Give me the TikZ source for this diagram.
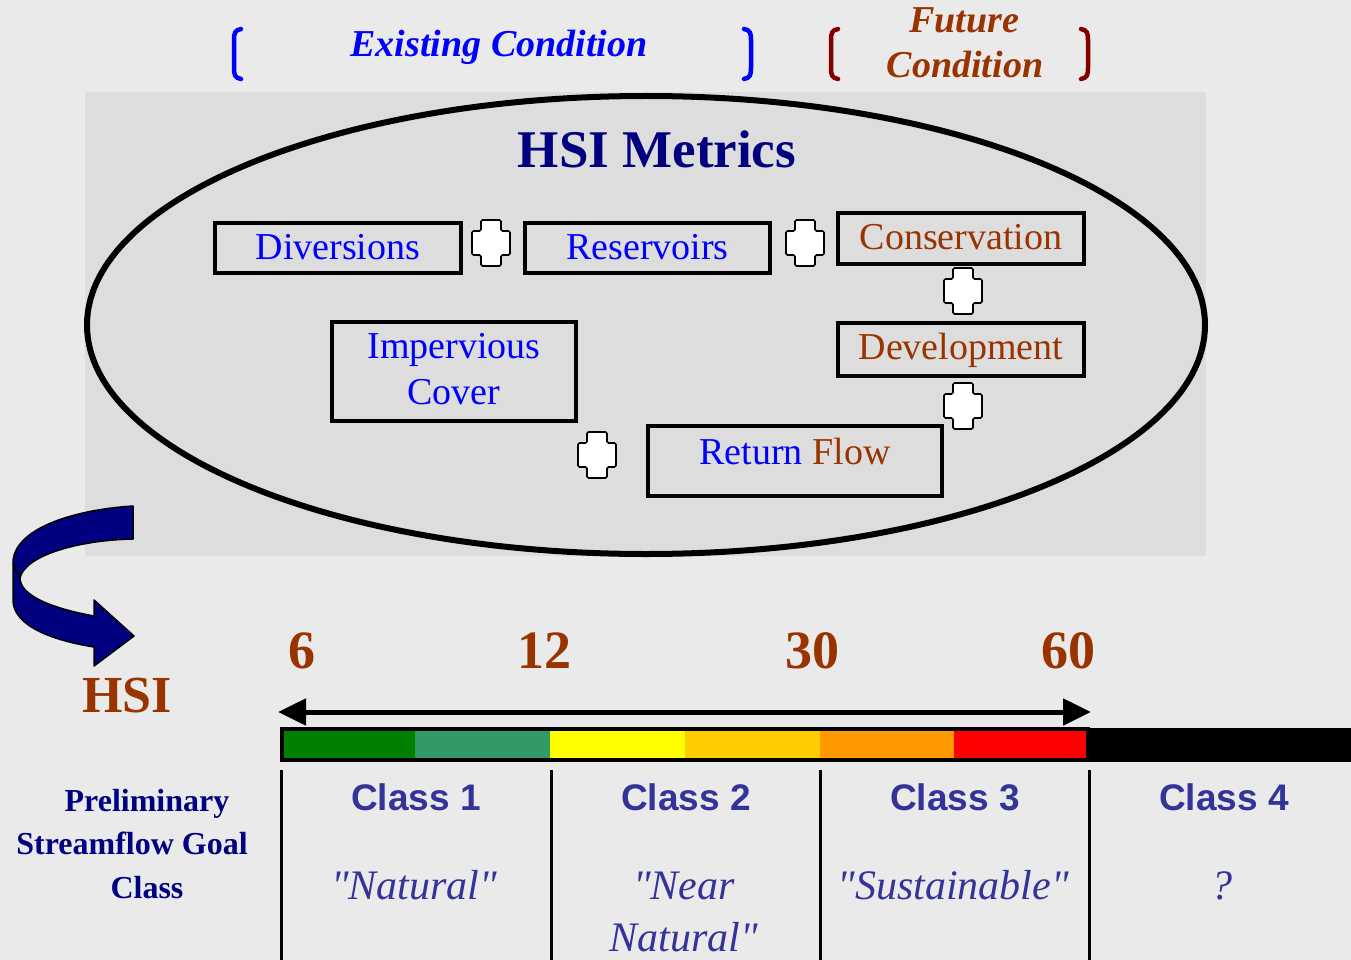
\documentclass[tikz,border=0pt]{standalone}
\usepackage{fontspec}
\setmainfont{Liberation Serif}[Ligatures=TeXOff]
\setsansfont{Liberation Sans}
\usetikzlibrary{arrows.meta}
\definecolor{bgc}{HTML}{EAEAEA}
\definecolor{panel}{HTML}{DDDDDD}
\definecolor{navy}{HTML}{000080}
\definecolor{brn}{HTML}{993300}
\definecolor{dred}{HTML}{800000}
\definecolor{cls}{HTML}{333399}
\definecolor{blu}{HTML}{0000FF}
\definecolor{ga}{HTML}{008000}
\definecolor{gb}{HTML}{339966}
\definecolor{ya}{HTML}{FFFF00}
\definecolor{yb}{HTML}{FFCC00}
\definecolor{oa}{HTML}{FF9900}
\definecolor{ra}{HTML}{FF0000}
\newcommand{\sq}{\symbol{34}}
\tikzset{
  mbox/.style={draw=black, line width=4.5pt, inner sep=0pt},
  txt/.style={inner sep=0pt, anchor=base},
  boxtext/.style={txt, font=\fontsize{38}{46}\selectfont},
  classlbl/.style={txt, text=cls, font=\sffamily\bfseries\fontsize{37}{44}\selectfont},
  classdesc/.style={txt, text=cls, font=\itshape\fontsize{42}{52}\selectfont},
  numlbl/.style={txt, text=brn, font=\bfseries\fontsize{54}{60}\selectfont},
  condtext/.style={txt, font=\bfseries\itshape\fontsize{38}{45}\selectfont},
  prelim/.style={txt, text=navy, font=\bfseries\fontsize{32}{40}\selectfont},
  brk/.style={line width=4.5pt, line cap=round},
  divline/.style={line width=3pt},
  plus/.pic={\draw[fill=white, line width=1.6pt, rounded corners=1.5pt]
     (-10,-23) -- (10,-23) -- (10,-12) -- (19,-12) -- (19,12) -- (10,12) -- (10,23)
     -- (-10,23) -- (-10,12) -- (-19,12) -- (-19,-12) -- (-10,-12) -- cycle;}
}
\begin{document}
\begin{tikzpicture}[x=1pt,y=-1pt]
\useasboundingbox (0,0) rectangle (1351,960);
\fill[bgc] (0,0) rectangle (1351,960);
\fill[panel] (85,92) rectangle (1206,556);

% top condition labels
\draw[brk, blu] (241,29) .. controls (235,30) and (234,33) .. (234,40) -- (234,68) .. controls (234,75) and (235,78) .. (241,79);
\draw[brk, blu] (744,29) .. controls (750,30) and (751,33) .. (751,40) -- (751,68) .. controls (751,75) and (750,78) .. (744,79);
\node[condtext, text=blu] (exist) at (499,57) {Existing Condition};
\draw[brk, dred] (838,29) .. controls (832,30) and (831,33) .. (831,40) -- (831,68) .. controls (831,75) and (832,78) .. (838,79);
\draw[brk, dred] (1081,29) .. controls (1087,30) and (1088,33) .. (1088,40) -- (1088,68) .. controls (1088,75) and (1087,78) .. (1081,79);
\node[condtext, text=brn] (fut1) at (964,33) {Future};
\node[condtext, text=brn] (fut2) at (965,78) {Condition};

% ellipse
\draw[line width=6pt] (646,325) ellipse [x radius=559pt, y radius=229pt];
\node[txt, text=navy, font=\bfseries\fontsize{53}{60}\selectfont] (title) at (657,168) {HSI Metrics};

% boxes
\node[mbox, minimum width=246pt, minimum height=50pt] (div) at (338,248) {};
\node[boxtext, text=blu] (divt) at (338,259) {Diversions};
\node[mbox, minimum width=245pt, minimum height=50pt] (res) at (647.5,248) {};
\node[boxtext, text=blu] (rest) at (647.5,259) {Reservoirs};
\node[mbox, minimum width=246pt, minimum height=51pt] (con) at (961,238.5) {};
\node[boxtext, text=brn] (cont) at (961,249) {Conservation};
\node[mbox, minimum width=246pt, minimum height=53pt] (dev) at (961,349.5) {};
\node[boxtext, text=brn] (devt) at (961,359) {Development};
\node[mbox, minimum width=244pt, minimum height=99pt] (imp) at (454,371.5) {};
\node[boxtext, text=blu] (impt1) at (454,358) {Impervious};
\node[boxtext, text=blu] (impt2) at (454,404) {Cover};
\node[mbox, minimum width=294pt, minimum height=70pt] (rf) at (795,461) {};
\node[boxtext] (rft) at (795,464) {\textcolor{blu}{Return} \textcolor{brn}{Flow}};

% plus signs
\pic at (491,243) {plus};
\pic at (805,243) {plus};
\pic at (963,291) {plus};
\pic at (963,406) {plus};
\pic at (597,455) {plus};

% curved arrow
\draw[fill=navy, draw=black, line width=1.5pt, line join=round]
  (133,506) .. controls (70,510) and (13,530) .. (13,563)
  -- (13,600) .. controls (13,625) and (50,640) .. (94,647)
  -- (94,666) -- (134,636) -- (94,600) -- (94,616)
  .. controls (50,608) and (20,595) .. (20,578)
  .. controls (25,555) and (80,540) .. (133,539) -- cycle;
\draw[line width=1.5pt] (13,563) -- (20,578);
\node[txt, text=brn, font=\bfseries\fontsize{52}{60}\selectfont] (hsi) at (127,712) {HSI};

% numbers
\node[numlbl] (n6) at (302,668) {6};
\node[numlbl] (n12) at (544,668) {12};
\node[numlbl] (n30) at (812,668) {30};
\node[numlbl] (n60) at (1068,668) {60};

% double arrow
\coordinate (al) at (278,712);
\coordinate (ar) at (1091,712);
\draw[line width=5pt, {Triangle[length=28pt, width=26pt]}-{Triangle[length=28pt, width=26pt]}] (al) -- (ar);

% colour bar
\fill[black] (1086,728) rectangle (1351,762);
\fill[ga] (282,729) rectangle (415,760);
\fill[gb] (415,729) rectangle (550,760);
\fill[ya] (550,729) rectangle (685,760);
\fill[yb] (685,729) rectangle (820,760);
\fill[oa] (820,729) rectangle (954,760);
\fill[ra] (954,729) rectangle (1088,760);
\draw[line width=4pt] (282,729) rectangle (1088,760);

% class dividers
\draw[divline] (281,770) -- (281,960);
\draw[divline] (551,770) -- (551,960);
\draw[divline] (820,770) -- (820,960);
\draw[divline] (1089,770) -- (1089,960);

% labels
\node[prelim] (pre1) at (147,811) {Preliminary};
\node[prelim] (pre2) at (132,854) {Streamflow Goal};
\node[prelim] (pre3) at (147,898) {Class};

\node[classlbl] (c1) at (416,810) {Class 1};
\node[classlbl] (c2) at (686,810) {Class 2};
\node[classlbl] (c3) at (955,810) {Class 3};
\node[classlbl] (c4) at (1224,810) {Class 4};

\node[classdesc] (d1) at (414,899) {\sq Natural\sq};
\node[classdesc] (d2a) at (684,899) {\sq Near};
\node[classdesc] (d2b) at (684,951) {Natural\sq};
\node[classdesc] (d3) at (953,899) {\sq Sustainable\sq};
\node[classdesc] (d4) at (1222,899) {?};
\end{tikzpicture}
\end{document}
